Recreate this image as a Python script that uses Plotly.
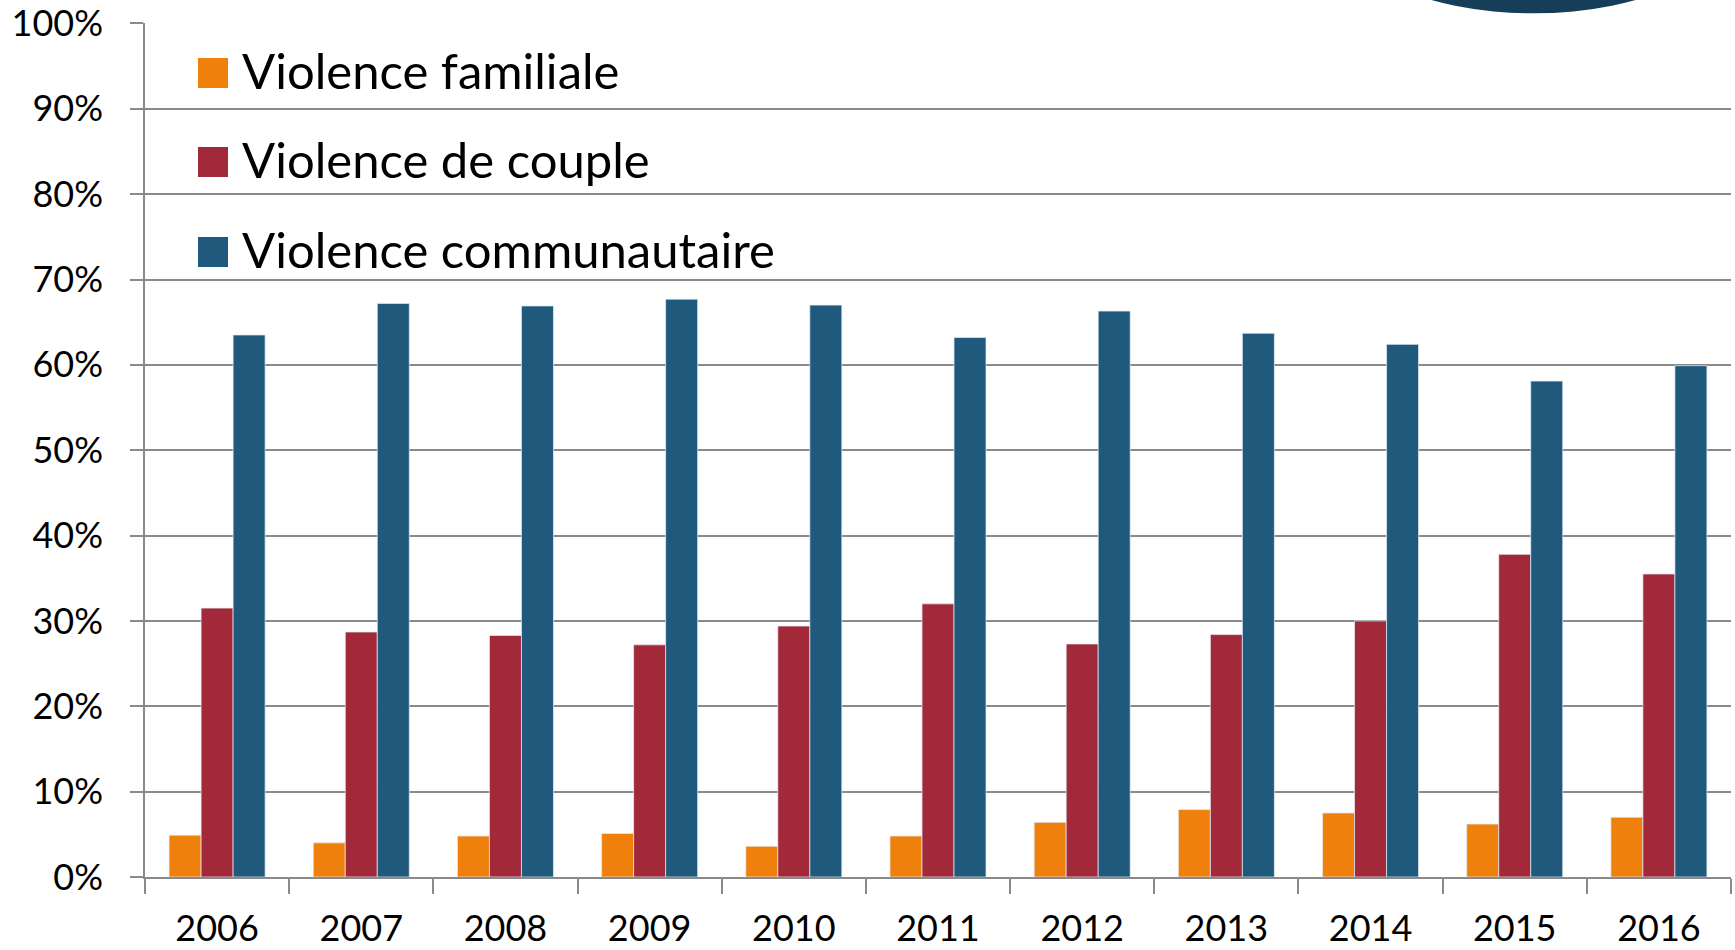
import plotly.graph_objects as go

years = ["2006", "2007", "2008", "2009", "2010", "2011", "2012", "2013", "2014", "2015", "2016"]
familiale = [0.049, 0.040, 0.048, 0.051, 0.036, 0.048, 0.064, 0.079, 0.075, 0.062, 0.070]
couple = [0.315, 0.287, 0.283, 0.272, 0.294, 0.320, 0.273, 0.284, 0.300, 0.378, 0.355]
communautaire = [0.635, 0.672, 0.669, 0.677, 0.670, 0.632, 0.663, 0.637, 0.624, 0.581, 0.599]
series_names = ["Violence familiale", "Violence de couple", "Violence communautaire"]
colors = ["#EF800C", "#A1293A", "#1F5A7D"]
y_ticks = [0.0, 0.1, 0.2, 0.3, 0.4, 0.5, 0.6, 0.7, 0.8, 0.9, 1.0]
y_labels = ["0%", "10%", "20%", "30%", "40%", "50%", "60%", "70%", "80%", "90%", "100%"]

W, H = 1735, 950
ML, MR, MT, MB = 145, 4, 23, 73
PW, PH = W - ML - MR, H - MT - MB
FONT = "Lato"

def px(x):
    return (x - ML) / PW

def py(y):
    return (H - MB - y) / PH

fig = go.Figure()
for name, vals, col in zip(series_names, [familiale, couple, communautaire], colors):
    fig.add_trace(go.Bar(
        x=years, y=vals, name=name,
        marker=dict(color=col, line=dict(color="rgba(230,236,242,0.9)", width=0.8)),
        showlegend=False,
    ))

shapes = []
annotations = []
row_tops = [58, 147, 237]
for name, col, top in zip(series_names, colors, row_tops):
    shapes.append(dict(type="rect", xref="paper", yref="paper",
                       x0=px(198), x1=px(228), y0=py(top + 30), y1=py(top),
                       fillcolor=col, line=dict(width=0)))
    annotations.append(dict(text=name, xref="paper", yref="paper",
                            x=px(240), y=py(top + 12), xanchor="left", yanchor="middle",
                            showarrow=False, font=dict(family=FONT, size=49, color="#000")))

# dark decorative ellipse at top right
shapes.append(dict(type="circle", xref="paper", yref="paper",
                   x0=px(1533.5 - 205), x1=px(1533.5 + 205),
                   y0=py(13.3), y1=py(13.3 - 200),
                   fillcolor="#173E58", line=dict(width=0), layer="above"))

fig.update_layout(
    width=W, height=H,
    margin=dict(l=ML, r=MR, t=MT, b=MB, autoexpand=False),
    paper_bgcolor="white", plot_bgcolor="white",
    barmode="group", bargap=0.334, bargroupgap=0,
    font=dict(family=FONT, color="#000"),
    shapes=shapes, annotations=annotations,
)
fig.update_xaxes(
    type="category", tickson="boundaries", automargin=False,
    showline=True, linecolor="#8A8A8A", linewidth=1.5,
    ticks="outside", ticklen=15, tickcolor="#8A8A8A", tickwidth=1.5,
    tickfont=dict(family=FONT, size=36, color="#000"),
    showgrid=False, ticklabelstandoff=19,
)
fig.update_yaxes(
    range=[0, 1.0005], tickmode="array", tickvals=y_ticks, ticktext=y_labels,
    automargin=False,
    showgrid=True, gridcolor="#8A8A8A", gridwidth=1.5,
    showline=True, linecolor="#8A8A8A", linewidth=1.5,
    ticks="outside", ticklen=13, tickcolor="#8A8A8A", tickwidth=1.5,
    tickfont=dict(family=FONT, size=36, color="#000"),
    zeroline=False, ticklabelstandoff=20,
)

fig.write_html("out.html", config={"displayModeBar": False},
               post_script="document.body.style.margin='0';document.body.style.overflow='hidden';")
